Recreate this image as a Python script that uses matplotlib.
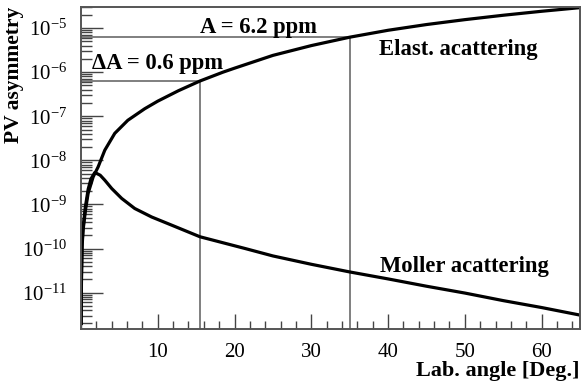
import numpy as np
import matplotlib.pyplot as plt
from matplotlib.ticker import LogLocator, MultipleLocator, NullFormatter

plt.rcParams['font.family'] = ['Liberation Serif', 'DejaVu Serif']
plt.rcParams['mathtext.fontset'] = 'stix'

# elastic scattering asymmetry vs lab angle
elast_angle = [0.02, 0.06, 0.14, 0.27, 0.58, 0.93, 1.58, 2.23, 3.1, 4.4, 6.1, 8.3,
               10.0, 12.7, 15.5, 18.5, 20.0, 25.0, 30.0, 35.0, 40.0, 45.0, 50.0,
               55.0, 60.0, 65.0]
elast_asym = [2e-12, 2e-11, 1.1e-10, 2.6e-10, 7.4e-10, 1.8e-9, 4.2e-9, 7.1e-9, 1.7e-8,
              4.1e-8, 8.1e-8, 1.48e-7, 2.2e-7, 3.8e-7, 6.3e-7, 1.0e-6, 1.23e-6, 2.4e-6,
              4.0e-6, 6.2e-6, 8.9e-6, 1.2e-5, 1.55e-5, 1.95e-5, 2.4e-5, 2.9e-5]

# Moller scattering asymmetry
moller_angle = [0.02, 0.06, 0.14, 0.27, 0.58, 0.93, 1.3, 1.8, 2.5, 3.1, 4.0, 5.3, 7.0,
                9.2, 11.8, 15.5, 21.4, 25.0, 30.0, 35.0, 40.0, 45.0, 50.0, 55.0, 60.0, 65.0]
moller_asym = [2e-12, 2.5e-11, 1.3e-10, 3e-10, 9e-10, 2.2e-9, 3.8e-9, 5.3e-9, 4.6e-9,
               3.55e-9, 2.3e-9, 1.37e-9, 8.1e-10, 5.2e-10, 3.4e-10, 1.85e-10, 1.0e-10,
               6.8e-11, 4.4e-11, 2.95e-11, 2.05e-11, 1.4e-11, 9.8e-12, 6.6e-12, 4.6e-12, 3.1e-12]

# marked working points
mark_angle = [15.5, 35.0]
mark_asym = [6.3e-7, 6.2e-6]

ymin, ymax = 1.5e-12, 3e-5

fig = plt.figure(figsize=(5.81, 3.85), dpi=100)
ax = fig.add_axes([81/581, 1-329/385, 499/581, 322/385])

gray = '#6a6a6a'
ax.vlines(mark_angle, ymin, mark_asym, colors=gray, lw=1.2)
ax.hlines(mark_asym, 0, mark_angle, colors=gray, lw=1.2)

ax.plot(elast_angle, elast_asym, color='black', lw=2.3)
ax.plot(moller_angle, moller_asym, color='black', lw=2.3)

ax.set_yscale('log')
ax.set_xlim(0, 65)
ax.set_ylim(ymin, ymax)

ax.xaxis.set_major_locator(MultipleLocator(10))
ax.xaxis.set_minor_locator(MultipleLocator(2))
ax.yaxis.set_major_locator(LogLocator(base=10, numticks=20))
ax.yaxis.set_minor_locator(LogLocator(base=10, subs=np.arange(2, 10), numticks=20))
ax.yaxis.set_minor_formatter(NullFormatter())

ax.tick_params(axis='both', which='both', direction='in', labelsize=15, color='#444444')
ax.tick_params(axis='x', which='major', length=11, width=1.0, pad=10)
ax.tick_params(axis='x', which='minor', length=6, width=1.0)
ax.tick_params(axis='y', which='major', length=16, width=1.0, pad=10)
ax.tick_params(axis='y', which='minor', length=8, width=1.0)
ax.set_xticks([10, 20, 30, 40, 50, 60])

for s in ax.spines.values():
    s.set_color('#555555')
    s.set_linewidth(1.4)

bold = dict(fontsize=16.3, fontweight='bold')
ax.text(15.5, 7.6e-6, 'A = 6.2 ppm', ha='left', va='baseline', **bold)
ax.text(1.4, 1.2e-6, '\u0394A = 0.6 ppm', ha='left', va='baseline', **bold)
ax.text(38.8, 2.4e-6, 'Elast. acattering', ha='left', va='baseline', **bold)
ax.text(39.0, 3.0e-11, 'Moller acattering', ha='left', va='baseline', **bold)

fig.text(14/581, 1-75/385, 'PV asymmetry', rotation=90, ha='center', va='center',
         fontsize=15.5, fontweight='bold')
fig.text(579/581, 1-376/385, 'Lab. angle [Deg.]', ha='right', va='baseline',
         fontsize=16, fontweight='bold')

fig.savefig('out.png', dpi=100)
